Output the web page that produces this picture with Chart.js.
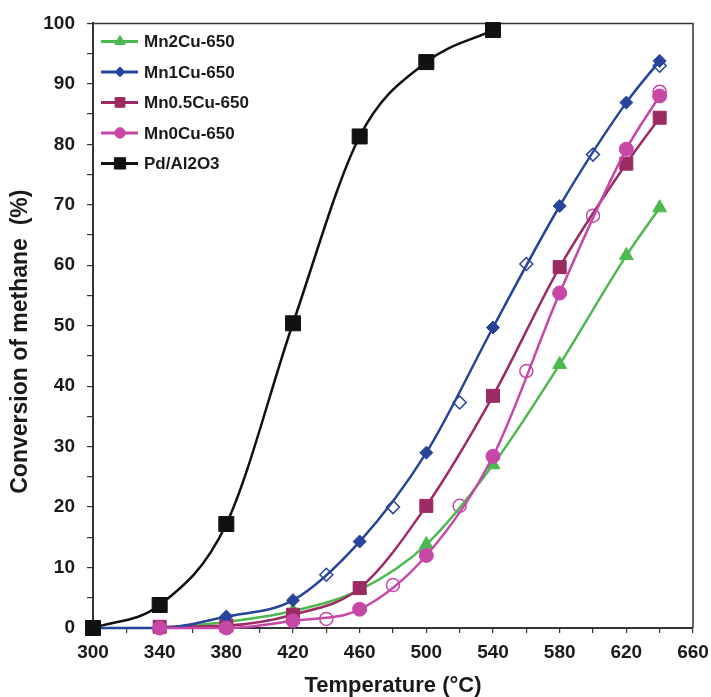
<!DOCTYPE html>
<html lang="en">
  <head>
    <meta charset="UTF-8">
    <title>Methane conversion</title>
    <script src="https://cdn.jsdelivr.net/npm/chart.js@4.4.1/dist/chart.umd.min.js"></script>
    <style>
      html, body { margin: 0; padding: 0; background: #fff; }
      #wrap { width: 711px; height: 697px; }
    </style>
  </head>
  <body>
    <div id="wrap"><canvas id="chart"></canvas></div>
    <script>
      // temperatures (°C) and conversions (%)
      const pdTemps = [300, 340, 380, 420, 460, 500, 540]
      const pdAl2O3 = [0, 3.8, 17.2, 50.4, 81.3, 93.6, 98.9]

      const mn1Temps = [300, 340, 380, 420, 460, 500, 540, 580, 620, 640]
      const mn1Cu = [0, 0, 1.9, 4.6, 14.3, 29.0, 49.7, 69.8, 86.9, 93.8]

      const catTemps = [340, 380, 420, 460, 500, 540, 580, 620, 640]
      const mn2Cu = [0, 1.0, 2.8, 6.3, 13.8, 27.0, 43.6, 61.6, 69.5]
      const mn05Cu = [0.2, 0.4, 2.2, 6.6, 20.2, 38.4, 59.7, 76.8, 84.4]
      const mn0Cu = [0, 0, 1.2, 3.1, 12.0, 28.4, 55.4, 79.2, 88.0]

      // open symbols (repeat run, not in legend)
      const repeatTemps = [440, 480, 520, 560, 600, 640]
      const mn1CuRepeat = [8.8, 20.0, 37.3, 60.2, 78.3, 93.0]
      const mn0CuRepeat = [1.5, 7.1, 20.2, 42.5, 68.2, 88.7]

      const xTicks = [300, 340, 380, 420, 460, 500, 540, 580, 620, 660]

      const colors = {
        mn2: '#4cb850',
        mn1: '#26449a',
        mn05: '#9c2b64',
        mn0: '#c647a6',
        pd: '#111111',
      }
      const FONT = "'Liberation Sans', Arial, sans-serif"

      const pts = (xs, ys) => xs.map((x, i) => ({ x, y: ys[i] }))

      function series(label, xs, ys, color, style, radius, order) {
        return {
          label,
          data: pts(xs, ys),
          borderColor: color,
          backgroundColor: color,
          borderWidth: 2.5,
          pointStyle: style,
          pointRadius: radius,
          pointBorderWidth: 1,
          pointBackgroundColor: color,
          pointBorderColor: color,
          cubicInterpolationMode: 'monotone',
          clip: false,
          inLegend: true,
          order,
        }
      }

      function openSeries(xs, ys, color, style, radius) {
        return {
          label: '',
          data: pts(xs, ys),
          showLine: false,
          pointStyle: style,
          pointRadius: radius,
          pointBorderWidth: 1.5,
          pointBackgroundColor: '#fff',
          pointBorderColor: color,
          clip: false,
          inLegend: false,
          order: 5,
        }
      }

      // legend drawn inside the plot: short line + marker + bold label
      const boxLegend = {
        id: 'boxLegend',
        afterDraw(chart) {
          const { ctx, chartArea } = chart
          const items = chart.data.datasets.filter(d => d.inLegend)
          const x0 = chartArea.left + 8
          let y = chartArea.top + 18
          ctx.save()
          ctx.font = `bold 17px ${FONT}`
          ctx.textBaseline = 'middle'
          for (const d of items) {
            ctx.strokeStyle = d.borderColor
            ctx.fillStyle = d.pointBackgroundColor
            ctx.lineWidth = 3
            ctx.beginPath()
            ctx.moveTo(x0, y)
            ctx.lineTo(x0 + 37, y)
            ctx.stroke()
            ctx.lineWidth = 1
            Chart.helpers.drawPoint(ctx, {
              pointStyle: d.pointStyle,
              radius: d.pointRadius * 0.75,
              rotation: 0,
              borderWidth: 1,
            }, x0 + 19, y)
            ctx.fillStyle = '#1a1a1a'
            ctx.fillText(d.label, x0 + 43, y + 1)
            y += 30.5
          }
          ctx.restore()
        },
      }

      // thin frame on top and right
      const frame = {
        id: 'frame',
        beforeDatasetsDraw(chart) {
          const { ctx, chartArea: a } = chart
          ctx.save()
          ctx.strokeStyle = '#333'
          ctx.lineWidth = 1.5
          ctx.beginPath()
          ctx.moveTo(a.left, a.top)
          ctx.lineTo(a.right, a.top)
          ctx.lineTo(a.right, a.bottom)
          ctx.stroke()
          ctx.restore()
        },
      }

      const chart = new Chart(document.getElementById('chart'), {
        type: 'line',
        data: {
          datasets: [
            series('Mn2Cu-650', catTemps, mn2Cu, colors.mn2, 'triangle', 8, 3),
            series('Mn1Cu-650', mn1Temps, mn1Cu, colors.mn1, 'rectRot', 6.5, 2),
            series('Mn0.5Cu-650', catTemps, mn05Cu, colors.mn05, 'rect', 9.2, 2),
            series('Mn0Cu-650', catTemps, mn0Cu, colors.mn0, 'circle', 7, 1),
            series('Pd/Al2O3', pdTemps, pdAl2O3, colors.pd, 'rect', 10.6, 0),
            openSeries(repeatTemps, mn1CuRepeat, colors.mn1, 'rectRot', 6.5),
            openSeries(repeatTemps, mn0CuRepeat, colors.mn0, 'circle', 6.5),
          ],
        },
        options: {
          responsive: true,
          maintainAspectRatio: false,
          animation: false,
          layout: { padding: { left: 0, top: 21, right: 18, bottom: 0 } },
          plugins: {
            legend: { display: false },
            tooltip: { enabled: false },
          },
          scales: {
            x: {
              type: 'linear',
              min: 300,
              max: 660,
              afterFit: s => {
                s.height = 69
                s.paddingLeft = 0
                s.paddingRight = 0
              },
              ticks: {
                stepSize: 20,
                autoSkip: false,
                maxRotation: 0,
                padding: 8,
                color: '#1a1a1a',
                font: { family: FONT, size: 19, weight: 'bold' },
                callback: v => xTicks.includes(v) ? v : '',
              },
              grid: { drawOnChartArea: false, tickLength: 5, color: '#333', lineWidth: 1.2 },
              border: { color: '#333', width: 2 },
              title: {
                display: true,
                text: 'Temperature (°C)',
                color: '#1a1a1a',
                font: { family: FONT, size: 22, weight: 'bold' },
                padding: { top: 0, bottom: -2 },
              },
            },
            y: {
              min: 0,
              max: 100,
              afterFit: s => { s.width = 93 },
              ticks: {
                stepSize: 5,
                padding: 12,
                color: '#1a1a1a',
                font: { family: FONT, size: 19, weight: 'bold' },
                callback: v => v % 10 === 0 ? v : '',
              },
              grid: { drawOnChartArea: false, tickLength: 6, color: '#333', lineWidth: 1.2 },
              border: { color: '#333', width: 2 },
              title: {
                display: true,
                // trailing spaces push the text a little below the axis centre, as in the figure
                text: 'Conversion of methane  (%)     ',
                color: '#1a1a1a',
                font: { family: FONT, size: 23, weight: 'bold' },
                padding: { top: 7, bottom: 0 },
              },
            },
          },
        },
        plugins: [frame, boxLegend],
      })
    </script>
  </body>
</html>
